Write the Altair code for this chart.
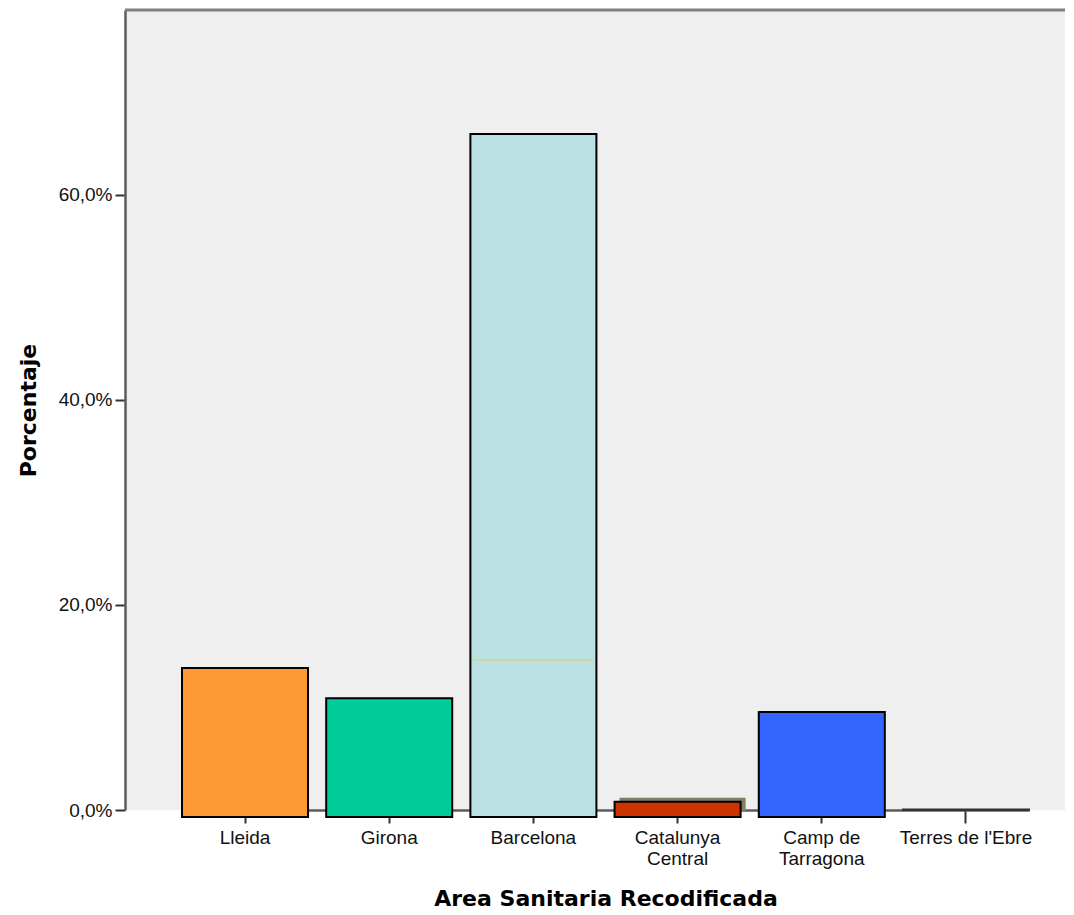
import altair as alt
import pandas as pd

# Data
categories = ["Lleida", "Girona", "Barcelona", "Catalunya|Central", "Camp de|Tarragona", "Terres de l'Ebre"]
percent = [13.85, 10.9, 65.9, 0.8, 9.55, 0.05]
bar_colors = ["#fe9833", "#00cc99", "#bbe0e3", "#cc3300", "#3366ff", "#333333"]
y_ticks = [0, 20, 40, 60]
y_max = 78
# thin artefact line drawn inside the Barcelona bar
inner_line_cat = ["Barcelona"]
inner_line_val = [14.6]

df = pd.DataFrame({"area": categories, "pct": percent})
df_line = pd.DataFrame({"area": inner_line_cat, "pct": inner_line_val})
df_top = pd.DataFrame({"top": [y_max]})

W, H = 940, 800
LABEL_FONT = "Liberation Sans Narrow, Liberation Sans, Arial"
TITLE_FONT = "DejaVu Sans"

x_scale = alt.Scale(domain=categories, range=[57, 904], paddingInner=0.126, paddingOuter=0)
y_scale = alt.Scale(domain=[0, y_max], nice=False, zero=True)
color_scale = alt.Scale(domain=categories, range=bar_colors)

x_axis = alt.Axis(
    title="Area Sanitaria Recodificada",
    labelExpr="split(datum.label, '|')",
    labelAngle=0,
    labelFont=LABEL_FONT,
    labelFontSize=19,
    labelColor="#111111",
    labelPadding=5,
    labelLineHeight=21,
    tickSize=13,
    tickColor="#333333",
    tickWidth=2,
    domainColor="#5c5c5c",
    domainWidth=2.5,
    titleFont=TITLE_FONT,
    titleFontSize=22,
    titleFontWeight="bold",
    titleColor="#000000",
    titlePadding=20,
    zindex=0,
)
y_axis = alt.Axis(
    title="Porcentaje",
    values=y_ticks,
    labelExpr="replace(format(datum.value, '.1f'), '.', ',') + '%'",
    labelFont=LABEL_FONT,
    labelFontSize=19,
    labelColor="#111111",
    labelPadding=3,
    tickSize=10,
    tickColor="#333333",
    tickWidth=2,
    domainColor="#5c5c5c",
    domainWidth=2.5,
    grid=False,
    titleFont=TITLE_FONT,
    titleFontSize=22,
    titleFontWeight="bold",
    titleColor="#000000",
    titlePadding=18,
    zindex=0,
)

x_enc = alt.X("area:N", scale=x_scale, sort=categories, axis=x_axis)
y_enc = alt.Y("pct:Q", scale=y_scale, axis=y_axis)

base = alt.Chart(df)

shadow = base.transform_filter("datum.pct > 0.5 && datum.pct < 2").mark_bar(
    color="#7f7f66", xOffset=5, yOffset=-4, y2Offset=2
).encode(x=x_enc, y=y_enc, y2=alt.datum(0))

bars = base.transform_filter("datum.pct > 0.5").mark_bar(
    stroke="#000000", strokeWidth=2, y2Offset=7
).encode(
    x=x_enc,
    y=y_enc,
    y2=alt.datum(0),
    color=alt.Color("area:N", scale=color_scale, legend=None),
)

flat = base.transform_filter("datum.pct <= 0.5").mark_bar(
    stroke="#333333", strokeWidth=2
).encode(
    x=x_enc,
    y=y_enc,
    y2=alt.datum(0),
    color=alt.Color("area:N", scale=color_scale, legend=None),
)

inner = alt.Chart(df_line).mark_tick(
    color="#d6cc8c", thickness=1.5, size=120
).encode(x=x_enc, y=y_enc)

top_rule = alt.Chart(df_top).mark_rule(color="#808080", strokeWidth=3).encode(
    y=alt.Y("top:Q", scale=y_scale, axis=y_axis)
)

chart = (
    alt.layer(shadow, bars, flat, inner, top_rule)
    .properties(
        width=W,
        height=H,
        autosize=alt.AutoSizeParams(type="none"),
        padding={"left": 117, "top": 2, "right": 1, "bottom": 100},
        background="#ffffff",
    )
    .configure_view(fill="#efefef", stroke=None)
)

chart.save("out.html", embed_options={"renderer": "svg", "actions": False})
